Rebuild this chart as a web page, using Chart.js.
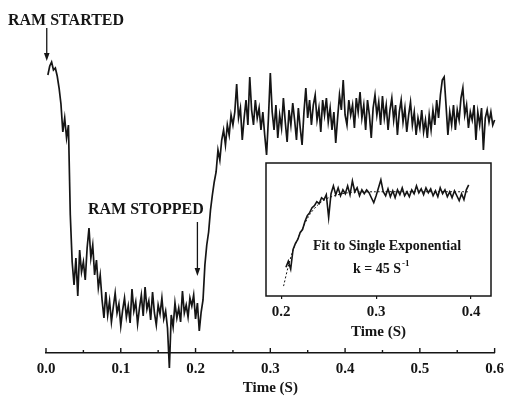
<!DOCTYPE html>
<html>
<head>
<meta charset="utf-8">
<title>RAM trace</title>
<script src="https://cdn.jsdelivr.net/npm/chart.js@4.4.0/dist/chart.umd.min.js"></script>
<style>
  html, body { margin: 0; padding: 0; background: #fff; }
  #wrap { position: relative; width: 511px; height: 405px; }
  #main { position: absolute; left: 0; top: 0; }
  #inset { position: absolute; left: 250px; top: 150px; }
</style>
</head>
<body>
<div id="wrap">
  <canvas id="main" width="511" height="405"></canvas>
  <canvas id="inset" width="255" height="200"></canvas>
</div>
<script>
// sampling of the main trace (s)
const traceT0 = 0.0025;
const traceDt = 0.0025;

// main trace signal, arbitrary units
const traceSignal = [
  // 0.0025 - 0.03  ram started
  2.78, 2.87, 2.91, 2.83, 2.85, 2.77, 2.65, 2.49, 2.21, 2.35, 2.15, 2.28,
  // 0.0325 - 0.08  drop
  1.38, 0.91, 0.68, 0.95, 0.57, 1.03, 0.81, 0.91, 0.73, 1.05,
  1.25, 0.95, 1.08, 0.78, 0.93, 0.65, 0.78, 0.53, 0.35, 0.61,
  // 0.0825 - 0.2075  low level
  0.38, 0.52, 0.31, 0.46, 0.60, 0.40, 0.49, 0.27, 0.43, 0.55,
  0.36, 0.47, 0.30, 0.64, 0.42, 0.51, 0.29, 0.45, 0.58, 0.37,
  0.66, 0.44, 0.52, 0.33, 0.61, 0.40, 0.28, 0.48, 0.39, 0.55,
  0.34, 0.42, 0.25, -0.15, 0.38, 0.26, 0.50, 0.35, 0.45, 0.31,
  0.62, 0.40, 0.48, 0.36, 0.55, 0.47, 0.58, 0.34, 0.50, 0.22,
  0.41,
  // 0.21 - 0.6  recovery and plateau
  0.53, 0.88, 1.08, 1.21, 1.43, 1.58, 1.71, 1.81, 2.03, 1.93,
  2.13, 2.23, 2.08, 2.28, 2.18, 2.38, 2.28, 2.41, 2.69, 2.35,
  2.45, 2.13, 2.35, 2.53, 2.28, 2.76, 2.43, 2.28, 2.53, 2.35,
  2.45, 2.23, 2.41, 2.18, 1.98, 2.35, 2.80, 2.41, 2.23, 2.48,
  2.15, 2.38, 2.25, 2.55, 2.31, 2.11, 2.43, 2.28, 2.50, 2.33,
  2.13, 2.45, 2.25, 2.08, 2.41, 2.65, 2.35, 2.53, 2.28, 2.48,
  2.58, 2.33, 2.45, 2.21, 2.53, 2.38, 2.55, 2.31, 2.45, 2.23,
  2.41, 2.10, 2.35, 2.58, 2.43, 2.73, 2.38, 2.28, 2.53, 2.38,
  2.48, 2.25, 2.55, 2.41, 2.61, 2.35, 2.48, 2.23, 2.53, 2.38,
  2.15, 2.45, 2.58, 2.38, 2.51, 2.28, 2.57, 2.35, 2.48, 2.23,
  2.43, 2.55, 2.33, 2.48, 2.18, 2.41, 2.53, 2.31, 2.45, 2.21,
  2.38, 2.51, 2.28, 2.41, 2.18, 2.35, 2.25, 2.43, 2.21, 2.33,
  2.15, 2.38, 2.23, 2.43, 2.28, 2.53, 2.35, 2.58, 2.73, 2.76,
  2.48, 2.18, 2.41, 2.28, 2.48, 2.23, 2.43, 2.33, 2.55, 2.65,
  2.38, 2.48, 2.25, 2.41, 2.33, 2.48, 2.13, 2.41, 2.28, 2.45,
  2.03, 2.35, 2.43, 2.31, 2.41, 2.28, 2.33
];

// inset: recovery after ram stop
const insetT0 = 0.205;
const insetDt = 0.0025;
const insetSignal = [
  0.29, 0.35, 0.27, 0.47, 0.53, 0.57, 0.64, 0.67, 0.75, 0.81,
  0.84, 0.89, 0.91, 0.95, 0.93, 0.99, 0.97, 1.02, 0.79, 1.03,
  1.11, 1.02, 1.09, 1.01, 1.07, 1.03, 1.11, 1.02, 1.16, 1.05,
  1.09, 1.01, 1.07, 1.03, 1.07, 1.04, 0.99, 0.94, 1.01, 1.09,
  1.17, 1.05, 1.01, 1.08, 1.00, 1.06, 0.99, 1.07, 1.02, 1.09,
  1.01, 1.05, 1.00, 1.07, 1.03, 1.11, 1.04, 1.08, 1.02, 1.09,
  1.04, 1.08, 1.01, 1.06, 1.00, 1.09, 1.03, 1.07, 1.00, 1.05,
  0.99, 1.06, 1.01, 0.96, 1.03, 0.97, 1.07, 1.12
];

// single exponential fit (k = 45 /s)
const fitTime = [0.2025, 0.2075, 0.2125, 0.22, 0.23, 0.24, 0.25, 0.27, 0.30, 0.3975];
const fitSignal = [0.10, 0.30, 0.46, 0.63, 0.82, 0.93, 0.99, 1.04, 1.05, 1.05];

const mainMajorTicks = [0.0, 0.1, 0.2, 0.3, 0.4, 0.5, 0.6];
const mainMinorTicks = [0.05, 0.15, 0.25, 0.35, 0.45, 0.55];
const insetTicks = [0.2, 0.3, 0.4];

const ink = "#151515";
const serif = '"Liberation Serif", "DejaVu Serif", serif';

const tracePoints = traceSignal.map((v, i) => ({ x: traceT0 + i * traceDt, y: v }));
const insetPoints = insetSignal.map((v, i) => ({ x: insetT0 + i * insetDt, y: v }));
const fitPoints = fitTime.map((t, i) => ({ x: t, y: fitSignal[i] }));

function drawArrow(ctx, px, y0, y1) {
  ctx.beginPath();
  ctx.moveTo(px, y0);
  ctx.lineTo(px, y1 - 6);
  ctx.stroke();
  ctx.beginPath();
  ctx.moveTo(px - 2.8, y1 - 8);
  ctx.lineTo(px + 2.8, y1 - 8);
  ctx.lineTo(px, y1);
  ctx.closePath();
  ctx.fill();
}

// ticks of the main axis point up from the line
const upTicks = {
  id: "upTicks",
  afterDraw(chart) {
    const x = chart.scales.x;
    const ctx = chart.ctx;
    ctx.save();
    ctx.strokeStyle = ink;
    ctx.lineWidth = 1.4;
    x.ticks.forEach((t) => {
      const px = x.getPixelForValue(t.value);
      const len = mainMajorTicks.includes(t.value) ? 5 : 3;
      ctx.beginPath();
      ctx.moveTo(px, x.top);
      ctx.lineTo(px, x.top - len);
      ctx.stroke();
    });
    ctx.restore();
  }
};

const ramNotes = {
  id: "ramNotes",
  afterDraw(chart) {
    const { ctx, scales: { x, y } } = chart;
    ctx.save();
    ctx.fillStyle = ink;
    ctx.strokeStyle = ink;
    ctx.lineWidth = 1.3;
    ctx.font = "bold 16px " + serif;
    ctx.textBaseline = "alphabetic";
    ctx.fillText("RAM STARTED", 8, 25);
    ctx.fillText("RAM STOPPED", 88, 214);
    drawArrow(ctx, x.getPixelForValue(0.001), y.getPixelForValue(3.25), y.getPixelForValue(2.92));
    drawArrow(ctx, x.getPixelForValue(0.2025), y.getPixelForValue(1.31), y.getPixelForValue(0.77));
    ctx.restore();
  }
};

const insetBox = {
  id: "insetBox",
  beforeDatasetsDraw(chart) {
    const a = chart.chartArea;
    const ctx = chart.ctx;
    ctx.save();
    ctx.fillStyle = "#fff";
    ctx.fillRect(a.left, a.top, a.right - a.left, a.bottom - a.top);
    ctx.restore();
  },
  afterDraw(chart) {
    const a = chart.chartArea;
    const ctx = chart.ctx;
    ctx.save();
    ctx.strokeStyle = ink;
    ctx.lineWidth = 1.5;
    ctx.strokeRect(a.left, a.top, a.right - a.left, a.bottom - a.top);
    ctx.fillStyle = ink;
    ctx.textAlign = "center";
    ctx.font = "bold 14px " + serif;
    ctx.fillText("Fit to Single Exponential", 137, 100);
    ctx.textAlign = "left";
    const kText = "k = 45 S";
    const kw = ctx.measureText(kText).width;
    const kx = 131 - (kw + 8) / 2;
    ctx.fillText(kText, kx, 123);
    ctx.font = "bold 9px " + serif;
    ctx.fillText("-1", kx + kw + 1, 116);
    ctx.restore();
  }
};

new Chart(document.getElementById("main"), {
  type: "line",
  data: {
    datasets: [{
      data: tracePoints,
      borderColor: ink,
      borderWidth: 1.7,
      pointRadius: 0,
      tension: 0,
      clip: false
    }]
  },
  options: {
    responsive: false,
    animation: false,
    layout: { padding: { left: 46, right: 11, top: 40, bottom: 0 } },
    plugins: { legend: { display: false }, tooltip: { enabled: false } },
    scales: {
      x: {
        type: "linear",
        min: 0,
        max: 0.6,
        afterFit: (s) => { s.height = 52; },
        afterBuildTicks: (s) => {
          s.ticks = mainMajorTicks.concat(mainMinorTicks).sort((a, b) => a - b).map((v) => ({ value: v }));
        },
        grid: { drawOnChartArea: false, drawTicks: false },
        border: { display: true, color: ink, width: 1.6 },
        ticks: {
          color: ink,
          padding: 7,
          maxRotation: 0,
          autoSkip: false,
          font: { family: serif, size: 15, weight: "bold" },
          callback: (v) => (mainMajorTicks.includes(v) ? v.toFixed(1) : "")
        },
        title: {
          display: true,
          text: "Time (S)",
          color: ink,
          padding: { top: 0, bottom: 8 },
          font: { family: serif, size: 15, weight: "bold" }
        }
      },
      y: { display: false, min: 0, max: 3.13 }
    }
  },
  plugins: [upTicks, ramNotes]
});

new Chart(document.getElementById("inset"), {
  type: "line",
  data: {
    datasets: [
      {
        data: insetPoints,
        borderColor: ink,
        borderWidth: 1.6,
        pointRadius: 0,
        tension: 0
      },
      {
        data: fitPoints,
        borderColor: ink,
        borderWidth: 1,
        borderDash: [2, 2],
        pointRadius: 0,
        tension: 0.3
      }
    ]
  },
  options: {
    responsive: false,
    animation: false,
    layout: { padding: { left: 16, right: 14, top: 13, bottom: 0 } },
    plugins: { legend: { display: false }, tooltip: { enabled: false } },
    scales: {
      x: {
        type: "linear",
        min: 0.184,
        max: 0.421,
        afterFit: (s) => { s.height = 54; },
        afterBuildTicks: (s) => { s.ticks = insetTicks.map((v) => ({ value: v })); },
        grid: { drawOnChartArea: false, drawTicks: true, tickLength: 3, color: ink, lineWidth: 1.2 },
        border: { display: false },
        ticks: {
          color: ink,
          padding: 4,
          maxRotation: 0,
          autoSkip: false,
          font: { family: serif, size: 15, weight: "bold" },
          callback: (v) => v.toFixed(1)
        },
        title: {
          display: true,
          text: "Time (S)",
          color: ink,
          padding: { top: 0, bottom: 9 },
          font: { family: serif, size: 15, weight: "bold" }
        }
      },
      y: { display: false, min: 0, max: 1.34 }
    }
  },
  plugins: [insetBox]
});
</script>
</body>
</html>
